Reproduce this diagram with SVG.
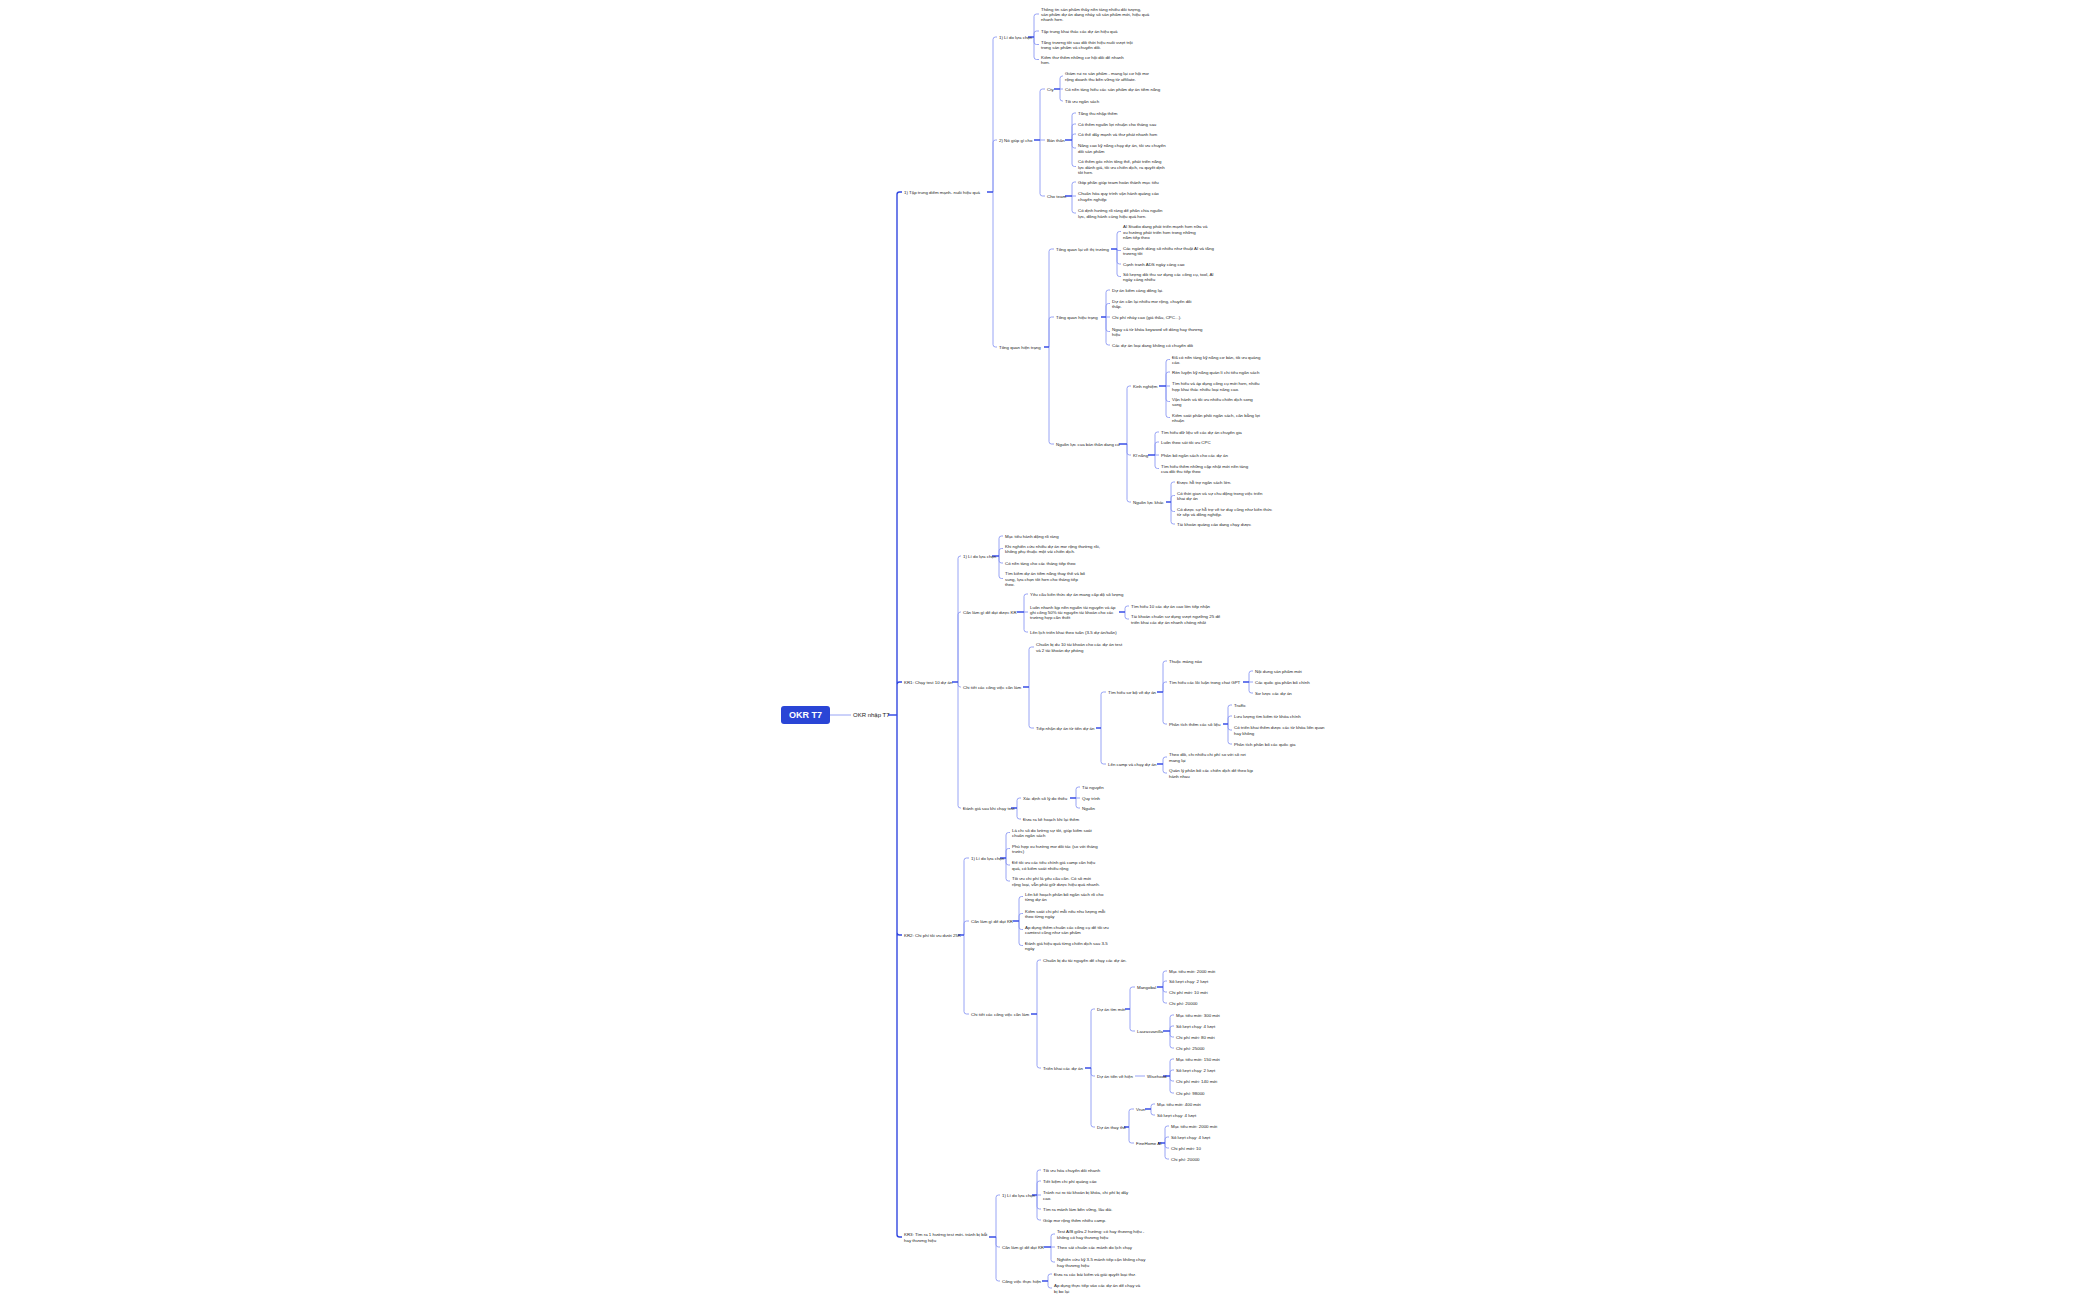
<svg xmlns="http://www.w3.org/2000/svg" width="2100" height="1300" viewBox="0 0 2100 1300">
<style>
text{font-family:"Liberation Sans","DejaVu Sans",sans-serif;font-size:4.4px;fill:#1c1c1c;dominant-baseline:central}
.root{font-size:9px;font-weight:bold;fill:#fff}
.c1{font-size:6px}
.main{fill:none;stroke:#3248e0;stroke-width:1.4}
.ln{fill:none;stroke:#8d9af4;stroke-width:0.9}
.stub{fill:none;stroke:#3a4fe6;stroke-width:1.3}
</style>
<rect width="2100" height="1300" fill="#ffffff"/>
<g id="connectors">
<path class="ln" d="M830 715H851"/>
<path class="main" d="M897 715V194.5Q897 192 899.5 192H902M897 715V684.5Q897 682 899.5 682H902M897 715V932.5Q897 935 899.5 935H902M897 715V1234.5Q897 1237 899.5 1237H902"/>
<path class="ln" d="M993 192V39.5Q993 37 995.5 37H997M993 192V142.5Q993 140 995.5 140H997M993 192V344.5Q993 347 995.5 347H997
M1034 37V16.5Q1034 14 1036.5 14H1039M1034 37V33.5Q1034 31 1036.5 31H1039M1034 37V42Q1034 44.5 1036.5 44.5H1039M1034 37V57Q1034 59.5 1036.5 59.5H1039
M1040 140V91.5Q1040 89 1042.5 89H1045M1040 140H1045M1040 140V193.5Q1040 196 1042.5 196H1045
M1060 89V78.5Q1060 76 1062.5 76H1063M1060 89H1063M1060 89V98.5Q1060 101 1062.5 101H1063
M1072 140V115.5Q1072 113 1074.5 113H1076M1072 140V126.5Q1072 124 1074.5 124H1076M1072 140V136.5Q1072 134 1074.5 134H1076M1072 140V145.5Q1072 148 1074.5 148H1076M1072 140V164Q1072 166.5 1074.5 166.5H1076
M1072 196V184.5Q1072 182 1074.5 182H1076M1072 196H1076M1072 196V210.5Q1072 213 1074.5 213H1076
M1049 347V251.5Q1049 249 1051.5 249H1054M1049 347V319.5Q1049 317 1051.5 317H1054M1049 347V441.5Q1049 444 1051.5 444H1054
M1117 249V234Q1117 231.5 1119.5 231.5H1121M1117 249V250.5H1121M1117 249V261.5Q1117 264 1119.5 264H1121M1117 249V274Q1117 276.5 1119.5 276.5H1121
M1106 317V292.5Q1106 290 1108.5 290H1110M1106 317V306Q1106 303.5 1108.5 303.5H1110M1106 317H1110M1106 317V329Q1106 331.5 1108.5 331.5H1110M1106 317V342.5Q1106 345 1108.5 345H1110
M1127 444V388.5Q1127 386 1129.5 386H1131M1127 444V452.5Q1127 455 1129.5 455H1131M1127 444V499.5Q1127 502 1129.5 502H1131
M1166 386V362Q1166 359.5 1168.5 359.5H1170M1166 386V374.5Q1166 372 1168.5 372H1170M1166 386H1170M1166 386V399Q1166 401.5 1168.5 401.5H1170M1166 386V415Q1166 417.5 1168.5 417.5H1170
M1155 455V434.5Q1155 432 1157.5 432H1159M1155 455V444.5Q1155 442 1157.5 442H1159M1155 455H1159M1155 455V466Q1155 468.5 1157.5 468.5H1159
M1171 502V484.5Q1171 482 1173.5 482H1175M1171 502V498Q1171 495.5 1173.5 495.5H1175M1171 502V509Q1171 511.5 1173.5 511.5H1175M1171 502V521.5Q1171 524 1173.5 524H1175
M958 682V558.5Q958 556 960.5 556H961M958 682V614.5Q958 612 960.5 612H961M958 682V684.5Q958 687 960.5 687H961M958 682V805.5Q958 808 960.5 808H961
M999 556V538.5Q999 536 1001.5 536H1003M999 556V551Q999 548.5 1001.5 548.5H1003M999 556V560.5Q999 563 1001.5 563H1003M999 556V576Q999 578.5 1001.5 578.5H1003
M1024 612V596.5Q1024 594 1026.5 594H1028M1024 612H1028M1024 612V629.5Q1024 632 1026.5 632H1028
M1125 612V608.5Q1125 606 1127.5 606H1129M1125 612V616.5Q1125 619 1127.5 619H1129
M1029 687V649.5Q1029 647 1031.5 647H1034M1029 687V725.5Q1029 728 1031.5 728H1034
M1101 728V694.5Q1101 692 1103.5 692H1106M1101 728V761.5Q1101 764 1103.5 764H1106
M1163 692V663.5Q1163 661 1165.5 661H1167M1163 692V684.5Q1163 682 1165.5 682H1167M1163 692V721.5Q1163 724 1165.5 724H1167
M1249 682V673.5Q1249 671 1251.5 671H1253M1249 682H1253M1249 682V690.5Q1249 693 1251.5 693H1253
M1228 724V707.5Q1228 705 1230.5 705H1232M1228 724V718.5Q1228 716 1230.5 716H1232M1228 724V727.5Q1228 730 1230.5 730H1232M1228 724V741.5Q1228 744 1230.5 744H1232
M1163 764V759.5Q1163 757 1165.5 757H1167M1163 764V770.5Q1163 773 1165.5 773H1167
M1017 808V800.5Q1017 798 1019.5 798H1021M1017 808V816.5Q1017 819 1019.5 819H1021
M1076 798V789.5Q1076 787 1078.5 787H1080M1076 798H1080M1076 798V805.5Q1076 808 1078.5 808H1080
M964 935V860.5Q964 858 966.5 858H969M964 935V923.5Q964 921 966.5 921H969M964 935V1011.5Q964 1014 966.5 1014H969
M1006 858V835Q1006 832.5 1008.5 832.5H1010M1006 858V851Q1006 848.5 1008.5 848.5H1010M1006 858V862.5Q1006 865 1008.5 865H1010M1006 858V878.5Q1006 881 1008.5 881H1010
M1019 921V899Q1019 896.5 1021.5 896.5H1023M1019 921V916Q1019 913.5 1021.5 913.5H1023M1019 921V927Q1019 929.5 1021.5 929.5H1023M1019 921V943Q1019 945.5 1021.5 945.5H1023
M1037 1014V962.5Q1037 960 1039.5 960H1041M1037 1014V1065.5Q1037 1068 1039.5 1068H1041
M1091 1068V1011.5Q1091 1009 1093.5 1009H1095M1091 1068V1073.5Q1091 1076 1093.5 1076H1095M1091 1068V1124.5Q1091 1127 1093.5 1127H1095
M1130 1009V989.5Q1130 987 1132.5 987H1135M1130 1009V1028.5Q1130 1031 1132.5 1031H1135
M1163 987V973.5Q1163 971 1165.5 971H1167M1163 987V983.5Q1163 981 1165.5 981H1167M1163 987V989.5Q1163 992 1165.5 992H1167M1163 987V1000.5Q1163 1003 1165.5 1003H1167
M1170 1031V1017.5Q1170 1015 1172.5 1015H1174M1170 1031V1028.5Q1170 1026 1172.5 1026H1174M1170 1031V1034.5Q1170 1037 1172.5 1037H1174M1170 1031V1045.5Q1170 1048 1172.5 1048H1174
M1135 1076H1145
M1170 1076V1061.5Q1170 1059 1172.5 1059H1174M1170 1076V1072.5Q1170 1070 1172.5 1070H1174M1170 1076V1078.5Q1170 1081 1172.5 1081H1174M1170 1076V1090.5Q1170 1093 1172.5 1093H1174
M1129 1127V1111.5Q1129 1109 1131.5 1109H1134M1129 1127V1140.5Q1129 1143 1131.5 1143H1134
M1151 1109V1106.5Q1151 1104 1153.5 1104H1155M1151 1109V1112.5Q1151 1115 1153.5 1115H1155
M1165 1143V1128.5Q1165 1126 1167.5 1126H1169M1165 1143V1139.5Q1165 1137 1167.5 1137H1169M1165 1143V1145.5Q1165 1148 1167.5 1148H1169M1165 1143V1156.5Q1165 1159 1167.5 1159H1169
M996 1237V1197.5Q996 1195 998.5 1195H1000M996 1237V1244.5Q996 1247 998.5 1247H1000M996 1237V1278.5Q996 1281 998.5 1281H1000
M1037 1195V1172.5Q1037 1170 1039.5 1170H1041M1037 1195V1183.5Q1037 1181 1039.5 1181H1041M1037 1195H1041M1037 1195V1206.5Q1037 1209 1039.5 1209H1041M1037 1195V1217.5Q1037 1220 1039.5 1220H1041
M1051 1247V1236.5Q1051 1234 1053.5 1234H1055M1051 1247H1055M1051 1247V1259.5Q1051 1262 1053.5 1262H1055
M1048 1281V1276.5Q1048 1274 1050.5 1274H1052M1048 1281V1285.5Q1048 1288 1050.5 1288H1052"/>
<path class="stub" d="M888 715H897M987 192H993M1028 37H1034M1034 140H1040M1054 89H1060M1065 140H1072M1065 196H1072M1044 347H1049M1111 249H1117M1101 317H1106M1119 444H1127M1159 386H1166M1148 455H1155M1166 502H1171M952 682H958M992 556H999M1017 612H1024M1119 612H1125M1023 687H1029M1096 728H1101M1157 692H1163M1243 682H1249M1223 724H1228M1157 764H1163M1011 808H1017M1070 798H1076M958 935H964M1000 858H1006M1013 921H1019M1031 1014H1037M1085 1068H1091M1125 1009H1130M1157 987H1163M1163 1031H1170M1163 1076H1170M1124 1127H1129M1145 1109H1151M1158 1143H1165M989 1237H996M1032 1195H1037M1044 1247H1051M1042 1281H1048"/>
</g>
<g id="root"><rect x="781" y="706" width="49" height="18" rx="3" fill="#2a45d6"/><text class="root" x="805.5" y="715" text-anchor="middle">OKR T7</text></g>
<g id="n-okr"><text class="c1" x="853" y="715">OKR nhập T7</text></g>

<g id="n-a"><text x="904" y="192">1) Tập trung điểm mạnh- nuôi hiệu quả</text></g>
<g id="n-a1"><text x="999" y="37">1) Lí do lựa chọn</text></g>
<g id="n-a1-1"><text x="1041" y="8.7"><tspan x="1041" dy="0">Thông tin sản phẩm thấy nền tảng nhiều đối tượng,</tspan><tspan x="1041" dy="5.3">sản phẩm dự án đang nhảy số sản phẩm mới, hiệu quả</tspan><tspan x="1041" dy="5.3">nhanh hơn.</tspan></text></g>
<g id="n-a1-2"><text x="1041" y="31">Tập trung khai thác các dự án hiệu quả</text></g>
<g id="n-a1-3"><text x="1041" y="41.85"><tspan x="1041" dy="0">Tăng trưởng tốt sau đổi thời hiệu nuôi vượt trội</tspan><tspan x="1041" dy="5.3">trong sản phẩm và chuyển đổi.</tspan></text></g>
<g id="n-a1-4"><text x="1041" y="56.85"><tspan x="1041" dy="0">Kiếm thử thêm những cơ hội đổi để nhanh</tspan><tspan x="1041" dy="5.3">hơn.</tspan></text></g>

<g id="n-a2"><text x="999" y="140">2) Nó giúp gì cho</text></g>
<g id="n-a2a"><text x="1047" y="89">Cty</text></g>
<g id="n-a2a-1"><text x="1065" y="73.35"><tspan x="1065" dy="0">Giảm rủi ro sản phẩm - mang lại cơ hội mở</tspan><tspan x="1065" dy="5.3">rộng doanh thu bền vững từ affiliate.</tspan></text></g>
<g id="n-a2a-2"><text x="1065" y="89">Có nền tảng hiểu các sản phẩm dự án tiềm năng</text></g>
<g id="n-a2a-3"><text x="1065" y="101">Tối ưu ngân sách</text></g>
<g id="n-a2b"><text x="1047" y="140">Bản thân</text></g>
<g id="n-a2b-1"><text x="1078" y="113">Tăng thu nhập thêm</text></g>
<g id="n-a2b-2"><text x="1078" y="124">Có thêm nguồn lợi nhuận cho tháng sau</text></g>
<g id="n-a2b-3"><text x="1078" y="134">Có thể đẩy mạnh và thử phát nhanh hơn</text></g>
<g id="n-a2b-4"><text x="1078" y="145.35"><tspan x="1078" dy="0">Nâng cao kỹ năng chạy dự án, tối ưu chuyển</tspan><tspan x="1078" dy="5.3">đổi sản phẩm</tspan></text></g>
<g id="n-a2b-5"><text x="1078" y="161.2"><tspan x="1078" dy="0">Có thêm góc nhìn tổng thể, phát triển năng</tspan><tspan x="1078" dy="5.3">lực đánh giá, tối ưu chiến dịch, ra quyết định</tspan><tspan x="1078" dy="5.3">tốt hơn.</tspan></text></g>
<g id="n-a2c"><text x="1047" y="196">Cho team</text></g>
<g id="n-a2c-1"><text x="1078" y="182">Góp phần giúp team hoàn thành mục tiêu</text></g>
<g id="n-a2c-2"><text x="1078" y="193.35"><tspan x="1078" dy="0">Chuẩn hóa quy trình vận hành quảng cáo</tspan><tspan x="1078" dy="5.3">chuyên nghiệp</tspan></text></g>
<g id="n-a2c-3"><text x="1078" y="210.35"><tspan x="1078" dy="0">Có định hướng rõ ràng để phân chia nguồn</tspan><tspan x="1078" dy="5.3">lực, đồng hành cùng hiệu quả hơn.</tspan></text></g>

<g id="n-a3"><text x="999" y="347">Tổng quan hiện trạng</text></g>
<g id="n-a3a"><text x="1056" y="249">Tổng quan lại về thị trường</text></g>
<g id="n-a3a-1"><text x="1123" y="226.2"><tspan x="1123" dy="0">AI Studio đang phát triển mạnh hơn nữa và</tspan><tspan x="1123" dy="5.3">xu hướng phát triển hơn trong những</tspan><tspan x="1123" dy="5.3">năm tiếp theo</tspan></text></g>
<g id="n-a3a-2"><text x="1123" y="247.85"><tspan x="1123" dy="0">Các ngành dùng số nhiều như thuật AI và tăng</tspan><tspan x="1123" dy="5.3">trưởng tốt</tspan></text></g>
<g id="n-a3a-3"><text x="1123" y="264">Cạnh tranh ADS ngày càng cao</text></g>
<g id="n-a3a-4"><text x="1123" y="273.85"><tspan x="1123" dy="0">Số lượng đối thủ sử dụng các công cụ, tool, AI</tspan><tspan x="1123" dy="5.3">ngày càng nhiều</tspan></text></g>
<g id="n-a3b"><text x="1056" y="317">Tổng quan hiệu trạng</text></g>
<g id="n-a3b-1"><text x="1112" y="290">Dự án kiếm càng đông lại.</text></g>
<g id="n-a3b-2"><text x="1112" y="300.85"><tspan x="1112" dy="0">Dự án cần lại nhiều mở rộng, chuyển đổi</tspan><tspan x="1112" dy="5.3">thấp.</tspan></text></g>
<g id="n-a3b-3"><text x="1112" y="317">Chi phí nhảy cao (giá thầu, CPC...).</text></g>
<g id="n-a3b-4"><text x="1112" y="328.85"><tspan x="1112" dy="0">Ngay cả từ khóa keyword về dòng hay thương</tspan><tspan x="1112" dy="5.3">hiệu</tspan></text></g>
<g id="n-a3b-5"><text x="1112" y="345">Các dự án loại đang không có chuyển đổi</text></g>
<g id="n-a3c"><text x="1056" y="444">Nguồn lực của bản thân đang có</text></g>
<g id="n-a3c1"><text x="1133" y="386">Kinh nghiệm</text></g>
<g id="n-a3c1-1"><text x="1172" y="356.85"><tspan x="1172" dy="0">Đã có nền tảng kỹ năng cơ bản, tối ưu quảng</tspan><tspan x="1172" dy="5.3">cáo.</tspan></text></g>
<g id="n-a3c1-2"><text x="1172" y="372">Rèn luyện kỹ năng quản lí chi tiêu ngân sách</text></g>
<g id="n-a3c1-3"><text x="1172" y="383.35"><tspan x="1172" dy="0">Tìm hiểu và áp dụng công cụ mới hơn, nhiều</tspan><tspan x="1172" dy="5.3">hợp khai thác nhiều loại nâng cao.</tspan></text></g>
<g id="n-a3c1-4"><text x="1172" y="398.85"><tspan x="1172" dy="0">Vận hành và tối ưu nhiều chiến dịch song</tspan><tspan x="1172" dy="5.3">song</tspan></text></g>
<g id="n-a3c1-5"><text x="1172" y="414.85"><tspan x="1172" dy="0">Kiểm soát phân phối ngân sách, cân bằng lợi</tspan><tspan x="1172" dy="5.3">nhuận</tspan></text></g>
<g id="n-a3c2"><text x="1133" y="455">Kĩ năng</text></g>
<g id="n-a3c2-1"><text x="1161" y="432">Tìm hiểu dữ liệu về các dự án chuyên gia</text></g>
<g id="n-a3c2-2"><text x="1161" y="442">Luôn theo sát tối ưu CPC</text></g>
<g id="n-a3c2-3"><text x="1161" y="455">Phân bổ ngân sách cho các dự án</text></g>
<g id="n-a3c2-4"><text x="1161" y="465.85"><tspan x="1161" dy="0">Tìm hiểu thêm những cập nhật mới nền tảng</tspan><tspan x="1161" dy="5.3">của đối thủ tiếp theo</tspan></text></g>
<g id="n-a3c3"><text x="1133" y="502">Nguồn lực khác</text></g>
<g id="n-a3c3-1"><text x="1177" y="482">Được hỗ trợ ngân sách lớn.</text></g>
<g id="n-a3c3-2"><text x="1177" y="492.85"><tspan x="1177" dy="0">Có thời gian và sự chủ động trong việc triển</tspan><tspan x="1177" dy="5.3">khai dự án</tspan></text></g>
<g id="n-a3c3-3"><text x="1177" y="508.85"><tspan x="1177" dy="0">Có được sự hỗ trợ về tư duy cũng như kiến thức</tspan><tspan x="1177" dy="5.3">từ sếp và đồng nghiệp.</tspan></text></g>
<g id="n-a3c3-4"><text x="1177" y="524">Tài khoản quảng cáo đang chạy được</text></g>

<g id="n-b"><text x="904" y="682">KR1: Chạy test 10 dự án</text></g>
<g id="n-b1"><text x="963" y="556">1) Lí do lựa chọn</text></g>
<g id="n-b1-1"><text x="1005" y="536">Mục tiêu hành động rõ ràng</text></g>
<g id="n-b1-2"><text x="1005" y="545.85"><tspan x="1005" dy="0">Khi nghiên cứu nhiều dự án mở rộng thường rồi,</tspan><tspan x="1005" dy="5.3">không phụ thuộc một vài chiến dịch.</tspan></text></g>
<g id="n-b1-3"><text x="1005" y="563">Có nền tảng cho các tháng tiếp theo</text></g>
<g id="n-b1-4"><text x="1005" y="573.2"><tspan x="1005" dy="0">Tìm kiếm dự án tiềm năng thay thế và bổ</tspan><tspan x="1005" dy="5.3">sung, lựa chọn tốt hơn cho tháng tiếp</tspan><tspan x="1005" dy="5.3">theo.</tspan></text></g>
<g id="n-b2"><text x="963" y="612">Cần làm gì để đạt được KR</text></g>
<g id="n-b2-1"><text x="1030" y="594">Yêu cầu kiến thức dự án mang cấp độ số lượng</text></g>
<g id="n-b2-2"><text x="1030" y="606.7"><tspan x="1030" dy="0">Luôn nhanh kịp nền nguồn tài nguyên và áp</tspan><tspan x="1030" dy="5.3">ghi công 50% tài nguyên tài khoản cho các</tspan><tspan x="1030" dy="5.3">trường hợp cần thiết</tspan></text></g>
<g id="n-b2-2a"><text x="1131" y="606">Tìm hiểu 10 các dự án cao lớn tiếp nhận</text></g>
<g id="n-b2-2b"><text x="1131" y="616.35"><tspan x="1131" dy="0">Tài khoản chuẩn sử dụng vượt ngưỡng 25 để</tspan><tspan x="1131" dy="5.3">triển khai các dự án nhanh chóng nhất</tspan></text></g>
<g id="n-b2-3"><text x="1030" y="632">Lên lịch triển khai theo tuần (3-5 dự án/tuần)</text></g>
<g id="n-b3"><text x="963" y="687">Chi tiết các công việc cần làm</text></g>
<g id="n-b3-1"><text x="1036" y="644.35"><tspan x="1036" dy="0">Chuẩn bị đủ 10 tài khoản cho các dự án test</tspan><tspan x="1036" dy="5.3">và 2 tài khoản dự phòng</tspan></text></g>
<g id="n-b3-2"><text x="1036" y="728">Tiếp nhận dự án từ tiến dự án</text></g>
<g id="n-b3-2a"><text x="1108" y="692">Tìm hiểu sơ bộ về dự án</text></g>
<g id="n-b3-2a1"><text x="1169" y="661">Thuộc mảng nào</text></g>
<g id="n-b3-2a2"><text x="1169" y="682">Tìm hiểu các lối luận trong chat GPT</text></g>
<g id="n-b3-2a2-1"><text x="1255" y="671">Nội dung sản phẩm mới</text></g>
<g id="n-b3-2a2-2"><text x="1255" y="682">Các quốc gia phân bổ chính</text></g>
<g id="n-b3-2a2-3"><text x="1255" y="693">Sơ lược các dự án</text></g>
<g id="n-b3-2a3"><text x="1169" y="724">Phân tích thêm các số liệu</text></g>
<g id="n-b3-2a3-1"><text x="1234" y="705">Traffic</text></g>
<g id="n-b3-2a3-2"><text x="1234" y="716">Lưu lượng tìm kiếm từ khóa chính</text></g>
<g id="n-b3-2a3-3"><text x="1234" y="727.35"><tspan x="1234" dy="0">Có triển khai thêm được các từ khóa liên quan</tspan><tspan x="1234" dy="5.3">hay không</tspan></text></g>
<g id="n-b3-2a3-4"><text x="1234" y="744">Phân tích phân bổ các quốc gia</text></g>
<g id="n-b3-2b"><text x="1108" y="764">Lên camp và chạy dự án</text></g>
<g id="n-b3-2b-1"><text x="1169" y="754.35"><tspan x="1169" dy="0">Theo dõi, chỉ nhiều chi phí so với số rơi</tspan><tspan x="1169" dy="5.3">mang lại</tspan></text></g>
<g id="n-b3-2b-2"><text x="1169" y="770.35"><tspan x="1169" dy="0">Quản lý phân bổ các chiến dịch để theo kịp</tspan><tspan x="1169" dy="5.3">hành nhau</tspan></text></g>
<g id="n-b4"><text x="963" y="808">Đánh giá sau khi chạy test</text></g>
<g id="n-b4-1"><text x="1023" y="798">Xác định số lý do thiếu</text></g>
<g id="n-b4-1a"><text x="1082" y="787">Tài nguyên</text></g>
<g id="n-b4-1b"><text x="1082" y="798">Quy trình</text></g>
<g id="n-b4-1c"><text x="1082" y="808">Nguồn</text></g>
<g id="n-b4-2"><text x="1023" y="819">Đưa ra kế hoạch khi lại thêm</text></g>

<g id="n-c"><text x="904" y="935">KR2: Chi phí tối ưu dưới 25K</text></g>
<g id="n-c1"><text x="971" y="858">1) Lí do lựa chọn</text></g>
<g id="n-c1-1"><text x="1012" y="829.85"><tspan x="1012" dy="0">Là chỉ số đo lường sự tốt, giúp kiểm soát</tspan><tspan x="1012" dy="5.3">chuẩn ngân sách</tspan></text></g>
<g id="n-c1-2"><text x="1012" y="845.85"><tspan x="1012" dy="0">Phù hợp xu hướng mở đối tác (so với tháng</tspan><tspan x="1012" dy="5.3">trước)</tspan></text></g>
<g id="n-c1-3"><text x="1012" y="862.35"><tspan x="1012" dy="0">Để tối ưu các tiêu chính giá camp cân hiệu</tspan><tspan x="1012" dy="5.3">quả, có kiểm soát nhiều rộng</tspan></text></g>
<g id="n-c1-4"><text x="1012" y="878.35"><tspan x="1012" dy="0">Tối ưu chi phí là yêu cầu cần. Có số mới</tspan><tspan x="1012" dy="5.3">rộng loại, vẫn phải giữ được hiệu quả nhanh.</tspan></text></g>
<g id="n-c2"><text x="971" y="921">Cần làm gì để đạt KR</text></g>
<g id="n-c2-1"><text x="1025" y="893.85"><tspan x="1025" dy="0">Lên kế hoạch phân bổ ngân sách rõ cho</tspan><tspan x="1025" dy="5.3">từng dự án</tspan></text></g>
<g id="n-c2-2"><text x="1025" y="910.85"><tspan x="1025" dy="0">Kiểm soát chi phí mỗi nếu nhu lượng mỗi</tspan><tspan x="1025" dy="5.3">theo từng ngày</tspan></text></g>
<g id="n-c2-3"><text x="1025" y="926.85"><tspan x="1025" dy="0">Áp dụng thêm chuẩn các công cụ để tối ưu</tspan><tspan x="1025" dy="5.3">camtest cũng như sản phẩm</tspan></text></g>
<g id="n-c2-4"><text x="1025" y="942.85"><tspan x="1025" dy="0">Đánh giá hiệu quả từng chiến dịch sau 3-5</tspan><tspan x="1025" dy="5.3">ngày</tspan></text></g>
<g id="n-c3"><text x="971" y="1014">Chi tiết các công việc cần làm</text></g>
<g id="n-c3-1"><text x="1043" y="960">Chuẩn bị đủ tài nguyên để chạy các dự án.</text></g>
<g id="n-c3-2"><text x="1043" y="1068">Triển khai các dự án</text></g>
<g id="n-c3-2a"><text x="1097" y="1009">Dự án tìm mới</text></g>
<g id="n-c3-2a1"><text x="1137" y="987">Mangobal</text></g>
<g id="n-c3-2a1-1"><text x="1169" y="971">Mục tiêu mới: 2000 mới</text></g>
<g id="n-c3-2a1-2"><text x="1169" y="981">Số lượt chạy: 2 lượt</text></g>
<g id="n-c3-2a1-3"><text x="1169" y="992">Chi phí mới: 10 mới</text></g>
<g id="n-c3-2a1-4"><text x="1169" y="1003">Chi phí: 20000</text></g>
<g id="n-c3-2a2"><text x="1137" y="1031">Laurasvanilla</text></g>
<g id="n-c3-2a2-1"><text x="1176" y="1015">Mục tiêu mới: 300 mới</text></g>
<g id="n-c3-2a2-2"><text x="1176" y="1026">Số lượt chạy: 4 lượt</text></g>
<g id="n-c3-2a2-3"><text x="1176" y="1037">Chi phí mới: 80 mới</text></g>
<g id="n-c3-2a2-4"><text x="1176" y="1048">Chi phí: 25000</text></g>
<g id="n-c3-2b"><text x="1097" y="1076">Dự án tiền về hiện</text></g>
<g id="n-c3-2b1"><text x="1147" y="1076">Wisehood</text></g>
<g id="n-c3-2b1-1"><text x="1176" y="1059">Mục tiêu mới: 150 mới</text></g>
<g id="n-c3-2b1-2"><text x="1176" y="1070">Số lượt chạy: 2 lượt</text></g>
<g id="n-c3-2b1-3"><text x="1176" y="1081">Chi phí mới: 140 mới</text></g>
<g id="n-c3-2b1-4"><text x="1176" y="1093">Chi phí: 98000</text></g>
<g id="n-c3-2c"><text x="1097" y="1127">Dự án thay thế</text></g>
<g id="n-c3-2c1"><text x="1136" y="1109">Vrun</text></g>
<g id="n-c3-2c1-1"><text x="1157" y="1104">Mục tiêu mới: 400 mới</text></g>
<g id="n-c3-2c1-2"><text x="1157" y="1115">Số lượt chạy: 4 lượt</text></g>
<g id="n-c3-2c2"><text x="1136" y="1143">FineHome AI</text></g>
<g id="n-c3-2c2-1"><text x="1171" y="1126">Mục tiêu mới: 2000 mới</text></g>
<g id="n-c3-2c2-2"><text x="1171" y="1137">Số lượt chạy: 4 lượt</text></g>
<g id="n-c3-2c2-3"><text x="1171" y="1148">Chi phí mới: 10</text></g>
<g id="n-c3-2c2-4"><text x="1171" y="1159">Chi phí: 20000</text></g>

<g id="n-d"><text x="904" y="1234.35"><tspan x="904" dy="0">KR3: Tìm ra 1 hướng test mới- tránh bị bắt</tspan><tspan x="904" dy="5.3">hay thương hiệu</tspan></text></g>
<g id="n-d1"><text x="1002" y="1195">1) Lí do lựa chọn</text></g>
<g id="n-d1-1"><text x="1043" y="1170">Tối ưu hóa chuyển đổi nhanh</text></g>
<g id="n-d1-2"><text x="1043" y="1181">Tiết kiệm chi phí quảng cáo</text></g>
<g id="n-d1-3"><text x="1043" y="1192.35"><tspan x="1043" dy="0">Tránh rủi ro tài khoản bị khóa, chi phí bị đẩy</tspan><tspan x="1043" dy="5.3">cao.</tspan></text></g>
<g id="n-d1-4"><text x="1043" y="1209">Tìm ra mảnh làm bền vững, lâu dài.</text></g>
<g id="n-d1-5"><text x="1043" y="1220">Giúp mở rộng thêm nhiều camp.</text></g>
<g id="n-d2"><text x="1002" y="1247">Cần làm gì để đạt KR</text></g>
<g id="n-d2-1"><text x="1057" y="1231.35"><tspan x="1057" dy="0">Test A/B giữa 2 hướng: có hay thương hiệu -</tspan><tspan x="1057" dy="5.3">không có hay thương hiệu</tspan></text></g>
<g id="n-d2-2"><text x="1057" y="1247">Theo sát chuẩn các mảnh đo lịch chạy</text></g>
<g id="n-d2-3"><text x="1057" y="1259.35"><tspan x="1057" dy="0">Nghiên cứu kỹ 3-5 mảnh tiếp cận không chạy</tspan><tspan x="1057" dy="5.3">hay thương hiệu</tspan></text></g>
<g id="n-d3"><text x="1002" y="1281">Công việc thực hiện</text></g>
<g id="n-d3-1"><text x="1054" y="1274">Đưa ra các bài kiểm và giải quyết loại thử.</text></g>
<g id="n-d3-2"><text x="1054" y="1285.35"><tspan x="1054" dy="0">Áp dụng thực tiếp vào các dự án để chạy và</tspan><tspan x="1054" dy="5.3">bị bỏ lại</tspan></text></g>
</svg>
